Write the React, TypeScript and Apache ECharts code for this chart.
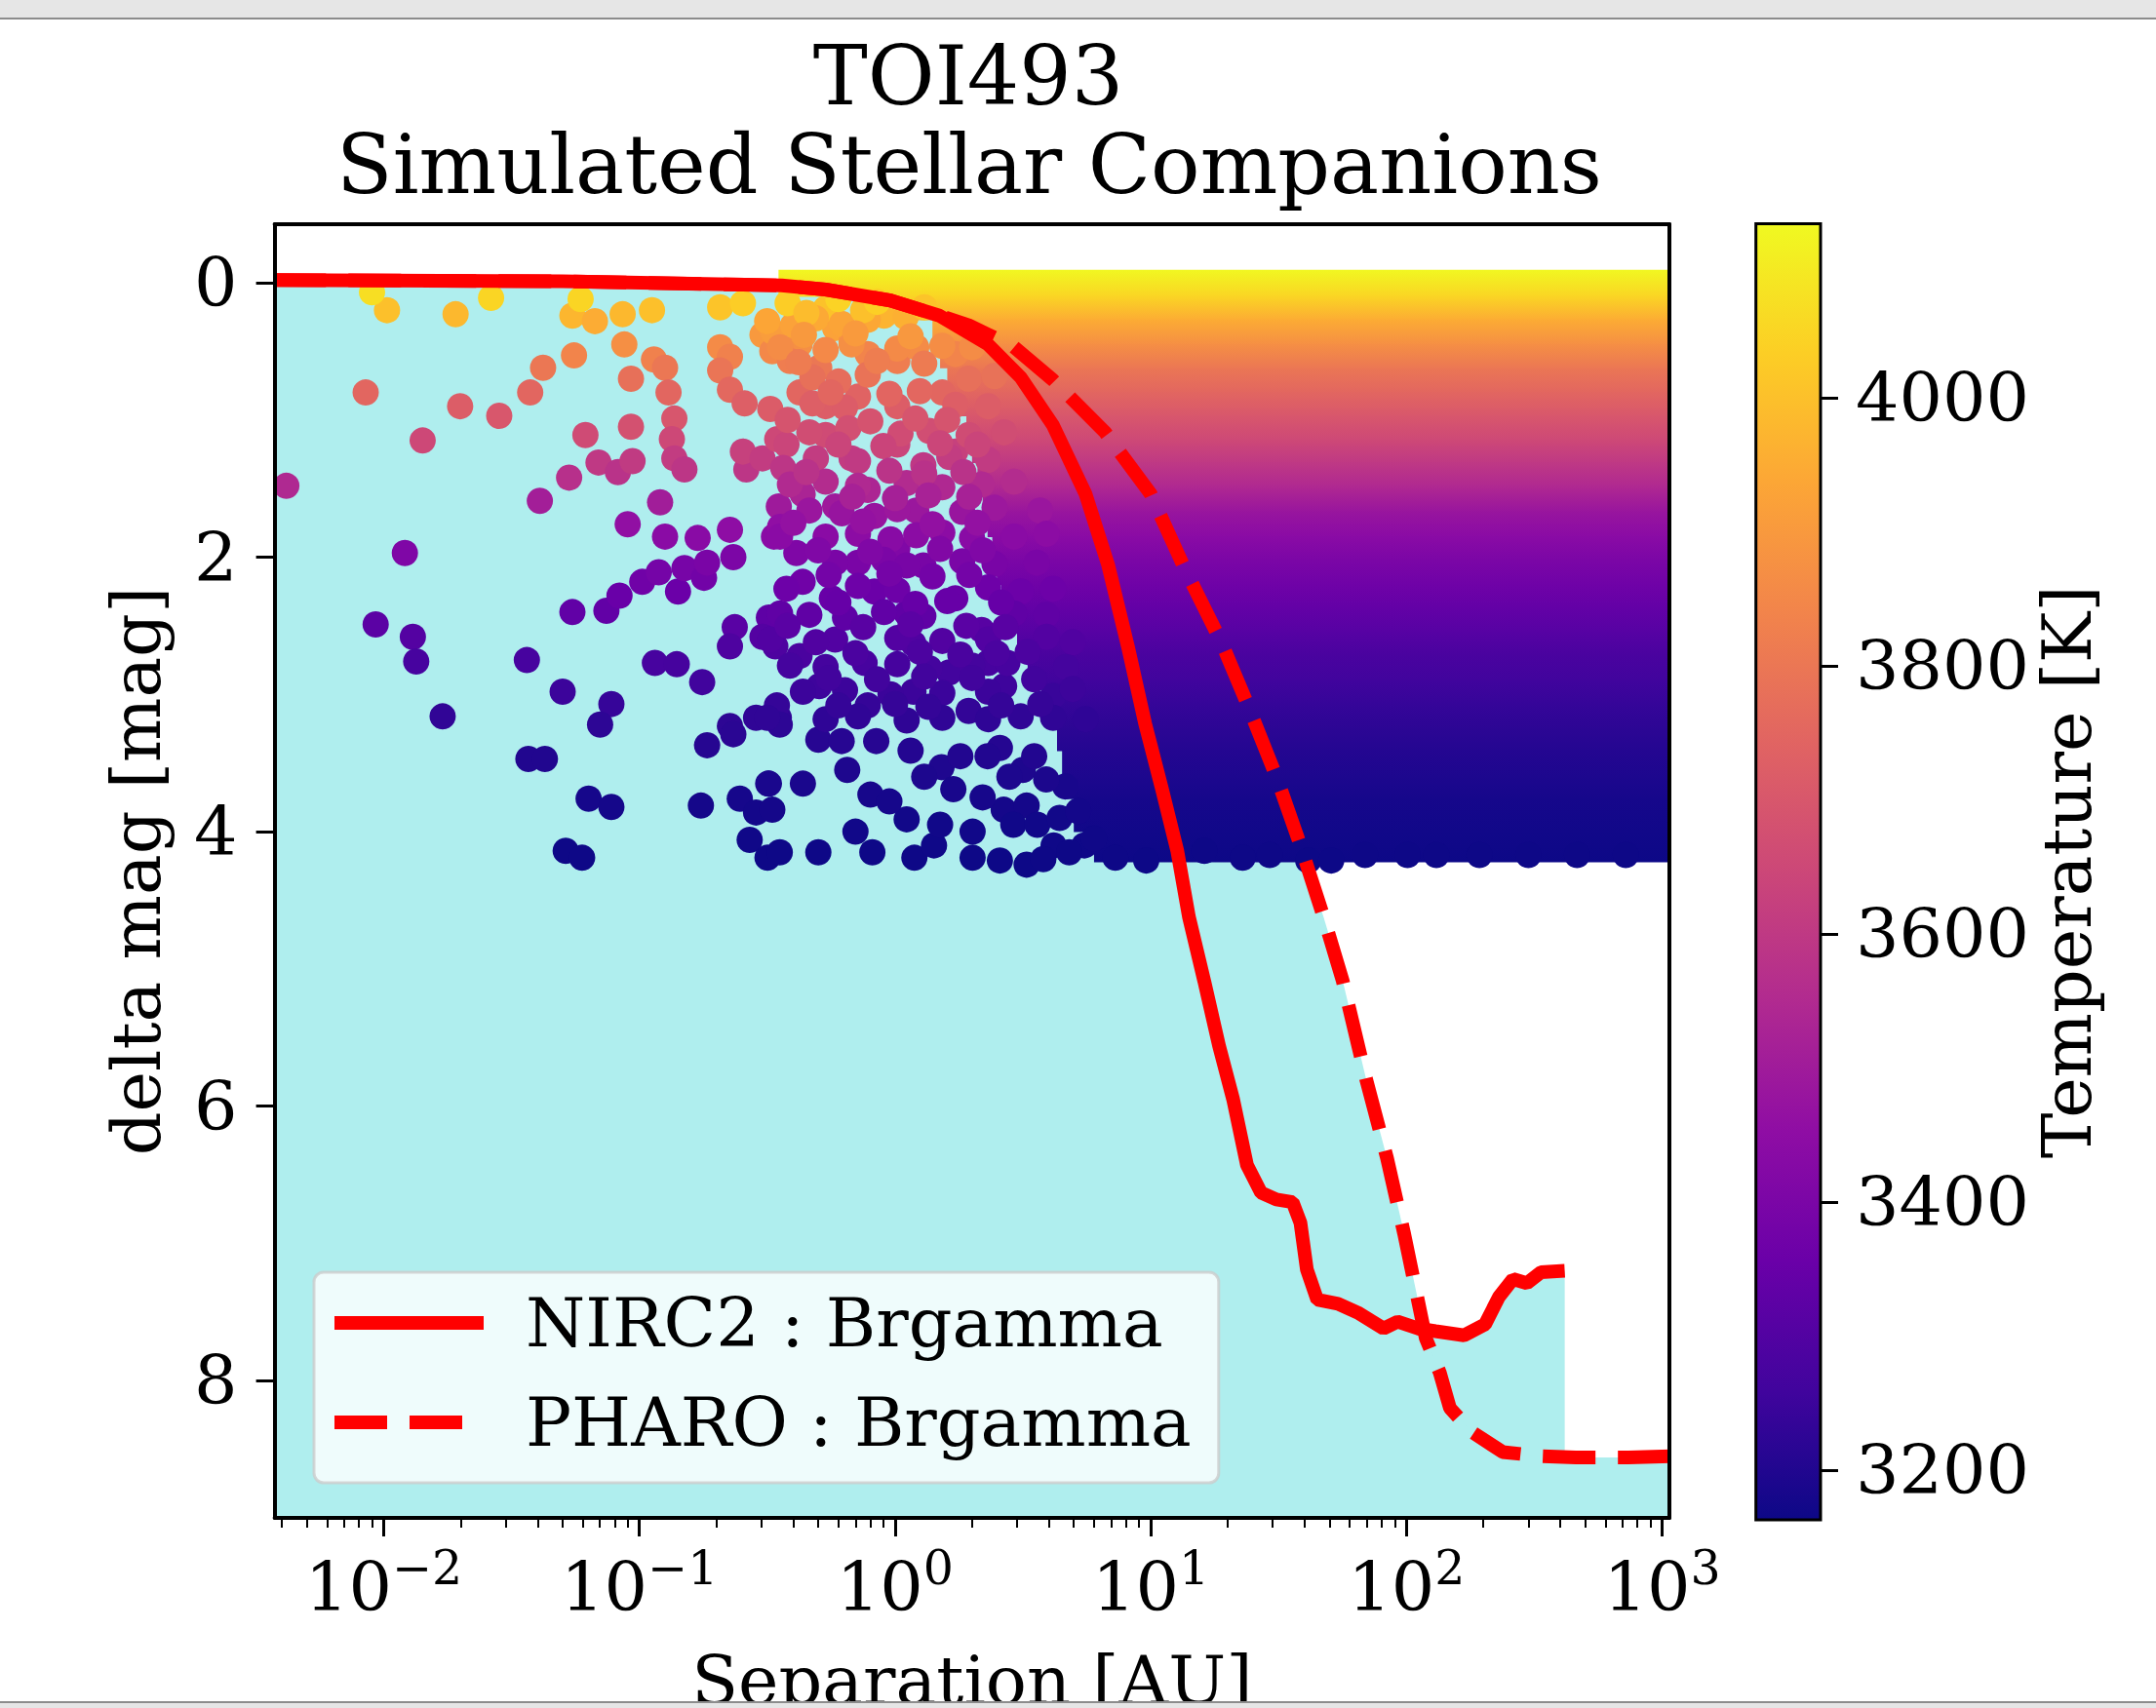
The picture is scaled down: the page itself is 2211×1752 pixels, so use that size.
import React, { useEffect, useRef } from 'react';
import * as echarts from 'echarts';

const FONT = "'DejaVu Serif', serif";

// ---- contrast curves (separation [AU], delta mag) ----
const nirc2Sep = [0.0037, 0.05, 0.36, 0.535, 0.96, 1.49, 2.31, 3.1, 4.15, 5.56, 6.82, 8.14, 9.5, 11.0, 12.7, 14.1, 16.2, 18.5, 21.0, 23.8, 27.0, 31.0, 35.9, 38.5, 40.8, 44.8, 54, 65.3, 81.4, 92.3, 111, 130, 168, 203, 230, 261, 296, 336, 416];
const nirc2Mag = [-0.02, -0.01, 0.02, 0.05, 0.13, 0.24, 0.45, 0.69, 1.04, 1.54, 2.06, 2.65, 3.21, 3.67, 4.14, 4.62, 5.09, 5.56, 5.95, 6.43, 6.63, 6.68, 6.7, 6.85, 7.19, 7.41, 7.44, 7.51, 7.62, 7.57, 7.62, 7.64, 7.67, 7.59, 7.39, 7.26, 7.29, 7.21, 7.2];
const pharoSep = [0.0037, 0.05, 0.36, 0.535, 0.96, 1.49, 1.94, 2.92, 4.15, 6.63, 10.0, 13.4, 19.0, 24.0, 31.3, 38.5, 47.4, 56.4, 69.5, 84, 98, 108, 119, 135, 148, 179, 238, 336, 460, 738, 1100];
const pharoMag = [-0.02, -0.01, 0.02, 0.05, 0.13, 0.24, 0.31, 0.47, 0.71, 1.09, 1.54, 2.06, 2.63, 3.08, 3.62, 4.1, 4.62, 5.09, 5.8, 6.38, 6.93, 7.31, 7.69, 7.94, 8.2, 8.37, 8.52, 8.55, 8.56, 8.56, 8.55];

// ---- individually visible simulated companions (separation [AU], delta mag, Teff [K]) ----
const sparseSep = [
  0.0103, 0.0191, 0.0263, 0.0547, 0.067, 0.086, 0.112, 0.207, 0.254, 0.009, 0.0589, 0.0873, 0.0555, 0.042, 0.0374, 0.0085, 0.0199, 0.0283, 0.0142, 0.0927,
  0.114, 0.126, 0.13, 0.137, 0.134, 0.137, 0.15, 0.207, 0.226, 0.207, 0.226, 0.258, 0.303, 0.331, 0.0927, 0.0615, 0.0692, 0.0824, 0.094, 0.0531,
  0.0408, 0.1205, 0.09, 0.126, 0.169, 0.226, 0.262, 0.254, 0.303, 0.346, 0.00416, 0.0121, 0.0093, 0.013, 0.0134, 0.0363, 0.017, 0.0501, 0.0777, 0.0547,
  0.0743, 0.0836, 0.1026, 0.119, 0.1416, 0.15, 0.179, 0.184, 0.233, 0.115, 0.14, 0.176, 0.236, 0.226, 0.321, 0.303, 0.34, 0.226, 0.286, 0.351,
  0.0702, 0.351, 0.336, 0.0368, 0.0427, 0.0633, 0.0777, 0.0515, 0.0597, 0.184, 0.233, 0.174, 0.247, 0.286, 0.321, 0.27, 0.317,
  0.334, 0.423, 0.388, 0.583, 0.676, 0.505, 0.782, 1.02, 1.21, 1.72, 0.905, 0.535, 0.716, 0.535, 0.423, 1.02, 1.53, 0.376, 0.365, 0.535,
  0.676, 1.02, 1.29, 1.72, 0.435, 0.355, 0.583, 0.782, 0.83, 1.21, 1.53, 0.411, 0.535, 0.716, 1.02, 1.29, 0.435, 0.355, 0.566, 0.83,
  1.11, 1.72, 2.18, 0.423, 0.583, 0.76, 1.18, 1.63, 2.31, 0.345, 0.505, 0.782, 1.18, 1.94, 2.67, 4.15,
  0.354, 0.501, 0.618, 0.844, 1.15, 1.52, 1.69, 0.319, 0.436, 0.331, 0.801, 1.11, 0.354, 0.501, 0.815, 1.19, 1.42, 2.01, 2.01, 2.57,
  3.27, 2.66, 3.27, 2.57, 3.16, 4.17, 4.63, 5.5, 7.27, 9.6, 16.2, 22.9, 29.2, 41.3, 50.8,
  68.9, 101, 131, 193, 300, 465, 721,
];
const sparseMag = [
  0.2, 0.23, 0.11, 0.24, 0.28, 0.23, 0.2, 0.18, 0.15, 0.07, 0.12, 0.45, 0.53, 0.62, 0.8, 0.8, 0.9, 0.97, 1.15, 0.7,
  0.56, 0.62, 0.8, 0.99, 1.14, 1.28, 1.36, 0.47, 0.54, 0.64, 0.78, 0.88, 0.38, 0.5, 1.05, 1.11, 1.31, 1.38, 1.3, 1.42,
  1.59, 1.6, 1.76, 1.85, 1.86, 1.8, 1.36, 1.23, 1.28, 1.14, 1.48, 1.97, 2.49, 2.58, 2.76, 2.75, 3.16, 2.98, 3.07, 2.4,
  2.39, 2.28, 2.18, 2.11, 2.25, 2.08, 2.15, 2.04, 2.0, 2.77, 2.78, 2.91, 2.51, 2.65, 2.44, 2.58, 2.65, 3.23, 3.17, 3.17,
  3.22, 1.63, 1.85, 3.47, 3.47, 3.76, 3.82, 4.14, 4.19, 3.37, 3.29, 3.81, 3.76, 3.86, 3.65, 4.06, 4.19,
  0.36, 0.45, 0.57, 0.33, 0.43, 0.62, 0.52, 0.57, 0.47, 0.52, 0.24, 0.19, 0.83, 0.9, 0.8, 0.9, 0.8, 1.18, 1.35, 1.11,
  1.28, 1.18, 1.33, 1.23, 1.54, 1.78, 1.63, 1.51, 1.7, 1.66, 1.82, 1.97, 1.85, 2.04, 1.94, 2.06, 2.18, 2.41, 2.3, 2.25,
  2.41, 2.3, 2.53, 2.72, 2.6, 2.77, 2.63, 2.84, 2.77, 3.08, 2.94, 3.08, 2.98, 3.12, 2.94, 3.01,
  3.22, 3.33, 3.34, 3.34, 3.41, 3.53, 3.69, 3.65, 3.65, 3.84, 3.73, 3.91, 4.15, 4.15, 4.15, 4.19, 4.1, 4.19, 4.0, 4.21,
  4.24, 3.84, 3.81, 3.39, 3.55, 4.1, 3.67, 4.1, 4.19, 4.21, 4.14, 4.19, 4.17, 4.21, 4.21,
  4.17, 4.17, 4.17, 4.17, 4.17, 4.17, 4.17,
];
const sparseTeff = [
  4000, 3980, 4050, 3975, 3950, 3980, 4000, 4010, 4030, 4070, 4050, 3870, 3840, 3800, 3750, 3750, 3720, 3700, 3650, 3780,
  3830, 3800, 3750, 3695, 3650, 3610, 3590, 3860, 3830, 3795, 3755, 3725, 3900, 3850, 3680, 3660, 3600, 3580, 3605, 3570,
  3510, 3505, 3460, 3440, 3438, 3450, 3590, 3625, 3610, 3650, 3545, 3410, 3320, 3305, 3275, 3275, 3230, 3250, 3240, 3335,
  3337, 3355, 3373, 3385, 3360, 3390, 3378, 3397, 3403, 3273, 3272, 3259, 3317, 3290, 3328, 3305, 3290, 3222, 3228, 3228,
  3223, 3495, 3440, 3200, 3200, 3180, 3178, 3165, 3164, 3209, 3216, 3178, 3180, 3176, 3188, 3168, 3164,
  3910, 3870, 3820, 3925, 3880, 3800, 3840, 3820, 3860, 3840, 3970, 4005, 3740, 3720, 3750, 3720, 3750, 3640, 3590, 3660,
  3610, 3640, 3595, 3625, 3530, 3455, 3495, 3535, 3475, 3485, 3445, 3410, 3440, 3397, 3415, 3393, 3373, 3333, 3352, 3360,
  3333, 3352, 3315, 3280, 3300, 3273, 3295, 3265, 3273, 3238, 3255, 3238, 3250, 3234, 3255, 3245,
  3223, 3212, 3211, 3211, 3205, 3197, 3185, 3188, 3188, 3177, 3182, 3173, 3165, 3165, 3165, 3164, 3166, 3164, 3170, 3163,
  3163, 3177, 3178, 3207, 3195, 3166, 3186, 3166, 3164, 3163, 3165, 3164, 3164, 3163, 3163,
  3164, 3164, 3164, 3164, 3164, 3164, 3164,
];

// ---- companions in the crowded transition zone (0.3 - 6 AU) ----
const crowdSep = [
  0.316, 0.399, 0.49, 0.619, 0.782,
  0.355, 0.535, 0.676, 1.02, 1.53, 2.0,
  0.475, 0.601, 0.782, 1.94, 2.45,
  0.325, 0.475, 0.637, 1.72, 2.31,
  0.462, 0.656, 1.05, 1.36, 1.94, 2.67,
  0.49, 0.716, 1.63, 2.31,
  0.388, 0.535, 0.716, 1.11, 1.53, 2.18, 2.92,
  0.462, 0.619, 1.02, 1.83, 2.45, 3.69,
  0.355, 0.716, 0.96, 1.21, 2.0, 2.92, 3.91,
  0.584, 0.905, 1.11, 1.83, 2.45, 3.58,
  0.376, 0.716, 1.02, 2.31, 3.1, 4.15,
  0.462, 0.637, 0.905, 1.29, 2.92, 3.91,
  0.325, 0.49, 1.02, 1.53, 2.31, 3.91, 4.95,
  0.388, 0.535, 1.02, 1.36, 2.0, 2.75, 4.67,
  0.436, 0.637, 0.96, 1.53, 2.31, 4.95,
  0.316, 0.535, 0.716, 1.11, 1.53, 2.31, 3.1, 4.15, 5.56,
  2.3, 2.8, 3.5, 3.9, 2.2, 2.9, 3.6, 4.4, 5.2, 4.8, 6.0, 3.8, 1.8, 1.3, 0.65, 0.95, 1.5, 0.7,
  0.38, 0.45, 0.6, 0.75, 0.85, 1.1, 1.3,
  0.44, 0.7, 1.15,
  0.42, 0.85, 1.3,
  0.56, 0.95, 1.25,
  0.38, 0.8, 1.2, 1.6,
  0.6, 0.9, 1.5, 2.1,
  0.45, 0.95, 1.3, 1.85,
  0.68, 1.0, 1.35, 1.95,
  0.4, 0.75, 1.4, 2.1,
  0.5, 0.8, 1.5, 2.2,
  0.55, 0.95, 1.4, 1.95,
  0.6, 1.2, 1.6, 2.6,
  0.38, 0.75, 1.15, 1.9, 2.7,
  0.7, 1.25, 1.8, 2.5, 3.3,
  0.55, 0.85, 1.3, 2.0, 3.5,
  0.6, 1.0, 1.35, 2.6, 3.7,
];
const crowdMag = [
  0.28, 0.31, 0.26, 0.3, 0.27,
  0.47, 0.49, 0.45, 0.48, 0.46, 0.47,
  0.69, 0.72, 0.67, 0.7, 0.68,
  0.92, 0.88, 0.91, 0.89, 0.9,
  1.09, 1.06, 1.1, 1.08, 1.11, 1.09,
  1.28, 1.3, 1.27, 1.29,
  1.47, 1.45, 1.48, 1.46, 1.49, 1.47, 1.45,
  1.66, 1.68, 1.65, 1.67, 1.64, 1.66,
  1.85, 1.83, 1.87, 1.84, 1.86, 1.85, 1.83,
  2.04, 2.02, 2.06, 2.03, 2.05, 2.04,
  2.23, 2.21, 2.24, 2.22, 2.25, 2.23,
  2.42, 2.44, 2.4, 2.43, 2.41, 2.42,
  2.6, 2.62, 2.59, 2.61, 2.6, 2.58, 2.62,
  2.79, 2.8, 2.78, 2.81, 2.79, 2.77, 2.8,
  2.98, 2.97, 3.0, 2.99, 2.98, 2.96,
  3.17, 3.18, 3.16, 3.19, 3.17, 3.18, 3.16, 3.17, 3.18,
  3.45, 3.6, 3.45, 3.62, 3.75, 3.95, 3.95, 3.9, 3.85, 4.15, 4.05, 4.2, 3.45, 3.6, 3.55, 3.78, 3.95, 4.0,
  0.15, 0.22, 0.12, 0.2, 0.14, 0.25, 0.18,
  0.38, 0.37, 0.39,
  0.58, 0.57, 0.59,
  0.8, 0.81, 0.79,
  1.0, 1.01, 0.99, 1.0,
  1.18, 1.19, 1.17, 1.18,
  1.38, 1.37, 1.39, 1.38,
  1.56, 1.57, 1.55, 1.56,
  1.75, 1.74, 1.76, 1.75,
  1.95, 1.96, 1.94, 1.95,
  2.13, 2.12, 2.14, 2.13,
  2.33, 2.34, 2.32, 2.33,
  2.5, 2.51, 2.49, 2.5, 2.51,
  2.7, 2.69, 2.71, 2.7, 2.69,
  2.88, 2.89, 2.87, 2.88, 2.89,
  3.08, 3.07, 3.09, 3.08, 3.07,
];
const crowdTeff = [
  3935, 3925, 3945, 3930, 3940,
  3862, 3855, 3870, 3858, 3866, 3862,
  3780, 3770, 3788, 3778, 3784,
  3715, 3727, 3718, 3724, 3720,
  3667, 3675, 3664, 3670, 3662, 3667,
  3610, 3604, 3612, 3607,
  3550, 3556, 3547, 3553, 3544, 3550, 3556,
  3483, 3477, 3486, 3480, 3489, 3483,
  3440, 3444, 3436, 3442, 3438, 3440, 3444,
  3397, 3401, 3393, 3399, 3395, 3397,
  3365, 3368, 3363, 3366, 3361, 3365,
  3332, 3329, 3335, 3330, 3333, 3332,
  3300, 3297, 3302, 3299, 3300, 3303, 3297,
  3270, 3269, 3272, 3268, 3270, 3273, 3269,
  3250, 3251, 3248, 3249, 3250, 3252,
  3228, 3227, 3229, 3226, 3228, 3227, 3229, 3228, 3227,
  3202, 3192, 3202, 3190, 3181, 3171, 3171, 3173, 3176, 3165, 3168, 3164, 3202, 3192, 3195, 3180, 3171, 3170,
  4030, 3990, 4045, 4000, 4035, 3960, 4010,
  3900, 3903, 3897,
  3815, 3818, 3812,
  3750, 3747, 3753,
  3690, 3688, 3692, 3690,
  3640, 3638, 3643, 3640,
  3580, 3583, 3577, 3580,
  3520, 3517, 3523, 3520,
  3465, 3468, 3462, 3465,
  3415, 3413, 3417, 3415,
  3383, 3385, 3381, 3383,
  3348, 3346, 3350, 3348,
  3318, 3316, 3320, 3318, 3316,
  3283, 3285, 3281, 3283, 3285,
  3262, 3261, 3263, 3262, 3261,
  3238, 3239, 3237, 3238, 3239,
];

// ---- the fully covered (dense) part of the companion cloud, as horizontal bands ----
const denseEdgeMag = [-0.09, 0.1, 0.27, 0.45, 0.62, 0.8, 0.97, 1.15, 1.31, 1.5, 1.67, 1.85, 2.02, 2.2, 2.37, 2.55, 2.71, 2.9, 3.06, 3.25, 3.41, 3.6, 3.76, 4.0, 4.22];
const denseEdgeTeff = [4125, 4050, 3950, 3870, 3800, 3750, 3700, 3650, 3600, 3540, 3480, 3440, 3400, 3370, 3340, 3310, 3280, 3260, 3240, 3220, 3205, 3192, 3180, 3170, 3163];
const denseLeftSep = [0.35, 1.0, 1.4, 1.5, 1.6, 1.7, 1.9, 2.0, 2.1, 2.2, 2.3, 2.4, 2.5, 2.6, 2.8, 3.0, 3.3, 3.8, 4.2, 4.3, 4.5, 4.6, 5.0, 6.0];
const denseRightSep = 1050;

// ---- ticks / labels ----
const xMajorExp = [-2, -1, 0, 1, 2, 3];
const xMinorMult = [2, 3, 4, 5, 6, 7, 8, 9];
const yTicks = [0, 2, 4, 6, 8];
const cbarTicks = [3200, 3400, 3600, 3800, 4000];
const legendNames = ['NIRC2 : Brgamma', 'PHARO : Brgamma'];

const PLASMA = ['#0d0887', '#41049d', '#6a00a8', '#8f0da4', '#b12a90', '#cc4778', '#e16462', '#f2844b', '#fca636', '#fcce25', '#f0f921'];
const T_MIN = 3163;
const T_MAX = 4130;
const X_MIN = -2.4268;
const X_MAX = 3.0286;
const Y_MIN = -0.426;
const Y_MAX = 9.0;

function hexRgb(h: string) {
  return [parseInt(h.slice(1, 3), 16), parseInt(h.slice(3, 5), 16), parseInt(h.slice(5, 7), 16)];
}
function plasmaAt(T: number) {
  let t = (T - T_MIN) / (T_MAX - T_MIN);
  t = Math.max(0, Math.min(1, t));
  const p = t * (PLASMA.length - 1);
  const i = Math.min(PLASMA.length - 2, Math.floor(p));
  const f = p - i;
  const a = hexRgb(PLASMA[i]);
  const b = hexRgb(PLASMA[i + 1]);
  const c = a.map((v, k) => Math.round(v + (b[k] - v) * f));
  return `rgb(${c[0]},${c[1]},${c[2]})`;
}

const L = (v: number) => Math.log10(v);

export default function App() {
  const ref = useRef<HTMLDivElement>(null);
  useEffect(() => {
    const chart = echarts.init(ref.current!, null, { renderer: 'svg', width: 2211, height: 1752 });

    const nirc2Data = nirc2Sep.map((s, i) => [L(s), nirc2Mag[i]]);
    const pharoData = pharoSep.map((s, i) => [L(s), pharoMag[i]]);
    const scatterData = sparseSep.map((s, i) => [L(s), sparseMag[i], sparseTeff[i]])
      .concat(crowdSep.map((s, i) => [L(s), crowdMag[i], crowdTeff[i]]));
    const denseData = denseLeftSep.map((s, i) => [L(s), L(denseRightSep), denseEdgeMag[i], denseEdgeMag[i + 1], denseEdgeTeff[i], denseEdgeTeff[i + 1]]);

    const minorVals: number[] = [];
    for (let e = -3; e <= 2; e++) {
      xMinorMult.forEach((m) => {
        const v = L(m) + e;
        if (v > X_MIN && v < X_MAX) minorVals.push(v);
      });
    }

    const tickStyle = { color: '#000', width: 3 };
    const labelBase = { fontFamily: FONT, fontSize: 70, color: '#000' };

    const option: any = {
      animation: false,
      backgroundColor: '#fff',
      textStyle: { fontFamily: FONT },
      grid: [
        { left: 281.6, top: 230, width: 1430.4, height: 1327, outerBoundsMode: 'none', containLabel: false },
        { left: 1800.7, top: 229.5, width: 66.3, height: 1329.5, outerBoundsMode: 'none', containLabel: false },
      ],
      xAxis: [
        {
          type: 'value', gridIndex: 0, position: 'bottom', min: X_MIN, max: X_MAX, z: 10,
          axisLine: { show: true, onZero: false, lineStyle: { color: '#000', width: 4 } },
          axisTick: { show: true, customValues: xMajorExp, length: 19, lineStyle: tickStyle },
          axisLabel: {
            show: true, customValues: xMajorExp, margin: 36,
            formatter: (v: number) => {
              const e = Math.round(v);
              const s = e < 0 ? '\u2212' + Math.abs(e) : String(e);
              return `{b|10}{s|${s}}`;
            },
            rich: {
              b: { fontFamily: FONT, fontSize: 70, lineHeight: 70, color: '#000', verticalAlign: 'bottom' },
              s: { fontFamily: FONT, fontSize: 49, lineHeight: 49, color: '#000', verticalAlign: 'bottom', padding: [0, 0, 30, 0] },
            },
          },
          splitLine: { show: false },
          name: 'Separation [AU]', nameLocation: 'middle', nameGap: 132,
          nameTextStyle: { ...labelBase },
        },
        {
          type: 'value', gridIndex: 0, position: 'bottom', min: X_MIN, max: X_MAX, z: 10,
          axisLine: { show: false, onZero: false },
          axisTick: { show: true, customValues: minorVals, length: 10, lineStyle: { color: '#000', width: 2 } },
          axisLabel: { show: false },
          splitLine: { show: false },
        },
        {
          type: 'value', gridIndex: 0, position: 'top', min: X_MIN, max: X_MAX, z: 10,
          axisLine: { show: true, onZero: false, lineStyle: { color: '#000', width: 4 } },
          axisTick: { show: false }, axisLabel: { show: false }, splitLine: { show: false },
        },
        { type: 'value', gridIndex: 1, min: 0, max: 1, show: false },
      ],
      yAxis: [
        {
          type: 'value', gridIndex: 0, position: 'left', inverse: true, min: Y_MIN, max: Y_MAX, z: 10,
          axisLine: { show: true, onZero: false, lineStyle: { color: '#000', width: 4 } },
          axisTick: { show: true, customValues: yTicks, length: 19, lineStyle: tickStyle },
          axisLabel: { show: true, customValues: yTicks, margin: 38, ...labelBase },
          splitLine: { show: false },
          name: 'delta mag [mag]', nameLocation: 'middle', nameGap: 107, nameRotate: 90,
          nameTextStyle: { ...labelBase },
        },
        {
          type: 'value', gridIndex: 0, position: 'right', inverse: true, min: Y_MIN, max: Y_MAX, z: 10,
          axisLine: { show: true, onZero: false, lineStyle: { color: '#000', width: 4 } },
          axisTick: { show: false }, axisLabel: { show: false }, splitLine: { show: false },
        },
        {
          type: 'value', gridIndex: 1, position: 'right', min: T_MIN, max: T_MAX, z: 10,
          axisLine: { show: false, onZero: false },
          axisTick: { show: true, customValues: cbarTicks, length: 18, lineStyle: tickStyle },
          axisLabel: { show: true, customValues: cbarTicks, margin: 36, formatter: (v: number) => String(Math.round(v)), ...labelBase },
          splitLine: { show: false },
          name: 'Temperature [K]', nameLocation: 'middle', nameGap: 206, nameRotate: 90,
          nameTextStyle: { ...labelBase },
        },
      ],
      visualMap: {
        type: 'continuous', show: false, seriesIndex: 3, dimension: 2,
        min: T_MIN, max: T_MAX, inRange: { color: PLASMA },
      },
      legend: {
        data: legendNames,
        orient: 'vertical', left: 322, top: 1305,
        itemWidth: 153, itemHeight: 30, itemGap: 22,
        padding: [12, 28, 22, 14],
        backgroundColor: 'rgba(255,255,255,0.8)',
        borderColor: 'rgba(204,204,204,0.8)', borderWidth: 3, borderRadius: 10,
        selectedMode: false,
        lineStyle: { width: 14 },
        itemStyle: { opacity: 0, borderWidth: 0 },
        textStyle: { fontFamily: FONT, fontSize: 70, color: '#000', lineHeight: 80, padding: [0, 0, 0, 38] },
        z: 20,
      },
      series: [
        {
          type: 'line', name: 'nirc2Fill', xAxisIndex: 0, yAxisIndex: 0, data: nirc2Data,
          symbol: 'none', showSymbol: false, lineStyle: { opacity: 0, width: 0 },
          areaStyle: { color: '#afeeee', opacity: 1, origin: 'end' }, z: 1, silent: true, clip: true,
        },
        {
          type: 'line', name: 'pharoFill', xAxisIndex: 0, yAxisIndex: 0, data: pharoData,
          symbol: 'none', showSymbol: false, lineStyle: { opacity: 0, width: 0 },
          areaStyle: { color: '#afeeee', opacity: 1, origin: 'end' }, z: 1, silent: true, clip: true,
        },
        {
          type: 'custom', name: 'denseCloud', xAxisIndex: 0, yAxisIndex: 0, data: denseData, z: 2, silent: true, clip: true,
          encode: { x: [0, 1], y: [2, 3] },
          renderItem: (params: any, api: any) => {
            const p0 = api.coord([api.value(0), api.value(2)]);
            const p1 = api.coord([api.value(1), api.value(3)]);
            return {
              type: 'rect',
              shape: { x: p0[0], y: p0[1] - 0.5, width: p1[0] - p0[0], height: p1[1] - p0[1] + 1 },
              style: {
                fill: new echarts.graphic.LinearGradient(0, 0, 0, 1, [
                  { offset: 0, color: plasmaAt(api.value(4)) },
                  { offset: 1, color: plasmaAt(api.value(5)) },
                ]),
              },
            };
          },
        },
        {
          type: 'scatter', name: 'companions', xAxisIndex: 0, yAxisIndex: 0, data: scatterData,
          symbol: 'circle', symbolSize: 27, z: 3, silent: true, clip: true,
          itemStyle: { opacity: 1 },
        },
        {
          type: 'line', name: legendNames[0], xAxisIndex: 0, yAxisIndex: 0, data: nirc2Data,
          symbol: 'none', showSymbol: false, z: 4, silent: true, clip: true,
          lineStyle: { color: '#ff0000', width: 14, type: 'solid' }, itemStyle: { color: '#ff0000' },
        },
        {
          type: 'line', name: legendNames[1], xAxisIndex: 0, yAxisIndex: 0, data: pharoData,
          symbol: 'none', showSymbol: false, z: 4, silent: true, clip: true,
          lineStyle: { color: '#ff0000', width: 14, type: [54, 23] }, itemStyle: { color: '#ff0000' },
        },
        {
          type: 'custom', name: 'colorbar', xAxisIndex: 3, yAxisIndex: 2, data: [[0, T_MIN, 1, T_MAX]], z: 2, silent: true,
          encode: { x: [0, 2], y: [1, 3] },
          renderItem: (params: any, api: any) => {
            const p0 = api.coord([api.value(0), api.value(3)]);
            const p1 = api.coord([api.value(2), api.value(1)]);
            return {
              type: 'rect',
              shape: { x: p0[0], y: p0[1], width: p1[0] - p0[0], height: p1[1] - p0[1] },
              style: {
                fill: new echarts.graphic.LinearGradient(0, 1, 0, 0, PLASMA.map((c, i) => ({ offset: i / (PLASMA.length - 1), color: c }))),
                stroke: '#000', lineWidth: 3,
              },
            };
          },
        },
      ],
      graphic: [
        { type: 'rect', z: 100, shape: { x: 0, y: 0, width: 2211, height: 18 }, style: { fill: '#e6e6e6' } },
        { type: 'rect', z: 100, shape: { x: 0, y: 18, width: 2211, height: 2 }, style: { fill: '#8c8c8c' } },
        { type: 'rect', z: 100, shape: { x: 0, y: 1745, width: 2211, height: 2 }, style: { fill: '#8c8c8c' } },
        { type: 'rect', z: 100, shape: { x: 0, y: 1747, width: 2211, height: 5 }, style: { fill: '#e6e6e6' } },
        { type: 'text', z: 100, x: 993, y: 78, style: { text: 'TOI493', fontFamily: FONT, fontSize: 84, fill: '#000', textAlign: 'center', textVerticalAlign: 'middle' } },
        { type: 'text', z: 100, x: 994, y: 169, style: { text: 'Simulated Stellar Companions', fontFamily: FONT, fontSize: 84, fill: '#000', textAlign: 'center', textVerticalAlign: 'middle' } },
      ],
    };
    chart.setOption(option);
    return () => chart.dispose();
  }, []);
  return <div ref={ref} style={{ position: 'absolute', left: 0, top: 0, width: 2211, height: 1752, background: '#fff' }} />;
}
